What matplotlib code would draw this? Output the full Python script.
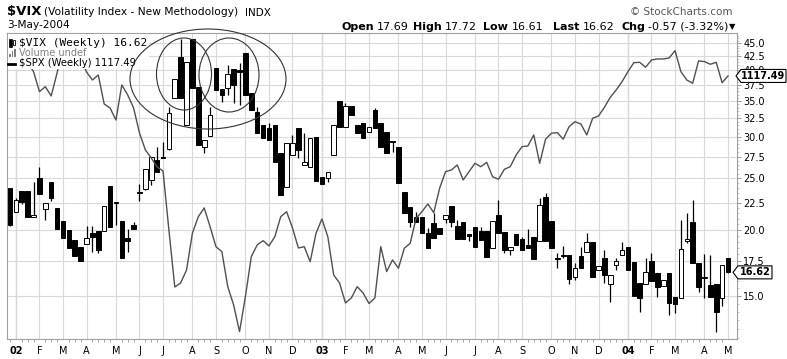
import matplotlib
matplotlib.use("Agg")
import matplotlib.pyplot as plt
import numpy as np
import pandas as pd
from matplotlib.lines import Line2D
from matplotlib.patches import Ellipse, Polygon, Rectangle
from matplotlib.ticker import FixedLocator, FuncFormatter, NullFormatter

W, H = 787, 359

# weekly bars (week starting Monday), first week of 2002 up to 3-May-2004
weeks = pd.date_range("2001-12-31", periods=123, freq="W-MON")

vix_open = [
    23.99, 21.64, 23.72, 23.72, 21.18, 25.03, 21.87, 24.58, 21.99, 20.79,
    19.99, 19.14, 18.58, 18.81, 19.76, 19.91, 19.91, 24.20, 22.61, 20.81,
    19.28, 20.43, 23.61, 23.84, 24.79, 27.10, 27.39, 28.38, 35.44, 42.35,
    31.55, 45.80, 37.27, 28.71, 30.08, 40.37, 36.85, 37.01, 40.20, 40.08,
    43.10, 36.22, 33.43, 31.55, 31.14, 31.55, 27.89, 24.13, 27.69, 31.10,
    26.52, 26.32, 29.91, 25.20, 25.03, 27.69, 35.08, 31.24, 34.27, 31.55,
    31.87, 30.64, 33.68, 31.87, 30.64, 29.48, 28.71, 23.61, 22.11, 21.18,
    21.18, 19.70, 20.64, 20.14, 20.94, 22.21, 20.34, 20.73, 19.64, 20.23,
    19.93, 19.93, 18.46, 21.33, 19.84, 18.33, 19.64, 19.20, 18.72, 19.41,
    19.08, 23.10, 20.81, 17.70, 17.93, 17.93, 16.31, 17.85, 18.19, 19.00,
    16.80, 17.67, 15.81, 17.17, 17.93, 18.54, 17.41, 15.85, 15.81, 17.47,
    16.59, 15.67, 16.54, 14.95, 14.89, 19.05, 20.73, 17.29, 16.29, 15.74,
    15.81, 14.85, 17.69,
]
vix_high = [
    23.99, 22.97, 23.72, 23.72, 24.60, 26.29, 22.45, 24.58, 21.99, 20.79,
    19.99, 19.14, 18.58, 20.31, 20.34, 19.91, 22.18, 24.20, 22.61, 20.81,
    20.08, 20.73, 24.38, 26.03, 27.49, 28.67, 29.31, 34.17, 38.49, 45.80,
    41.55, 45.80, 37.27, 29.57, 34.17, 40.37, 36.85, 40.95, 40.20, 41.26,
    43.10, 36.22, 34.12, 31.55, 31.83, 31.55, 27.89, 29.14, 30.21, 31.10,
    30.44, 29.79, 29.91, 25.20, 25.76, 31.55, 35.08, 34.78, 34.27, 31.55,
    31.87, 31.32, 33.94, 31.87, 30.64, 29.48, 28.71, 23.61, 22.11, 21.64,
    21.18, 20.14, 21.49, 20.14, 21.33, 22.21, 20.88, 20.73, 19.64, 20.23,
    20.28, 19.93, 20.81, 22.77, 19.84, 18.58, 19.64, 19.41, 20.08, 19.41,
    22.94, 23.45, 20.81, 18.06, 18.64, 17.93, 17.32, 18.58, 19.70, 19.00,
    17.09, 18.33, 16.43, 17.70, 18.95, 18.54, 17.41, 15.85, 17.67, 18.11,
    16.59, 16.08, 16.54, 14.95, 20.88, 21.54, 22.77, 17.29, 18.00, 17.93,
    15.81, 17.19, 17.72,
]
vix_low = [
    20.34, 21.62, 22.38, 21.18, 21.10, 23.38, 20.88, 22.70, 20.04, 19.28,
    18.46, 17.85, 17.47, 18.81, 18.19, 18.11, 19.91, 20.25, 20.46, 17.70,
    18.19, 20.08, 22.70, 23.79, 24.31, 25.67, 27.28, 28.29, 35.44, 35.44,
    31.55, 37.01, 28.93, 27.89, 30.08, 36.74, 34.92, 35.95, 34.68, 34.42,
    35.95, 33.68, 30.44, 29.82, 29.57, 26.90, 23.27, 24.13, 27.69, 27.30,
    26.52, 26.32, 24.77, 24.42, 24.66, 27.69, 31.32, 31.24, 32.96, 30.44,
    29.79, 30.64, 31.10, 28.71, 27.89, 28.07, 24.50, 21.49, 20.28, 20.73,
    19.70, 18.46, 19.28, 19.64, 20.64, 20.28, 19.20, 19.20, 19.08, 18.54,
    19.14, 17.80, 18.46, 19.70, 18.06, 17.93, 18.72, 18.33, 18.46, 17.62,
    19.08, 19.08, 18.46, 16.92, 17.70, 15.81, 16.08, 16.92, 18.19, 16.31,
    16.80, 15.85, 14.63, 16.80, 17.93, 16.80, 15.02, 14.01, 15.81, 16.03,
    14.92, 15.67, 13.81, 13.92, 14.89, 18.89, 17.34, 15.26, 14.87, 14.95,
    12.84, 14.36, 16.61,
]
vix_close = [
    20.43, 22.77, 22.61, 21.18, 21.29, 23.38, 22.45, 22.94, 20.04, 19.28,
    18.46, 17.85, 17.47, 19.28, 19.36, 18.33, 22.18, 20.25, 22.51, 17.70,
    19.08, 20.08, 23.45, 26.03, 27.49, 25.67, 27.30, 33.20, 38.49, 35.44,
    41.55, 37.01, 28.93, 29.57, 32.96, 36.74, 35.95, 39.34, 37.55, 39.73,
    35.95, 33.68, 30.44, 29.82, 29.57, 26.90, 23.27, 29.14, 29.14, 28.29,
    26.90, 29.79, 24.77, 24.42, 25.76, 31.55, 31.32, 34.27, 32.96, 30.44,
    29.79, 31.32, 31.10, 28.71, 27.89, 29.35, 24.50, 21.49, 20.73, 20.73,
    19.70, 18.46, 19.28, 19.64, 21.33, 20.73, 19.20, 19.20, 19.47, 18.54,
    19.14, 17.80, 20.81, 19.70, 18.33, 18.58, 18.72, 18.33, 18.46, 17.62,
    22.28, 19.08, 18.46, 17.62, 17.81, 16.13, 16.92, 16.92, 19.00, 16.31,
    17.09, 16.43, 16.43, 17.47, 18.33, 16.80, 15.02, 14.85, 16.66, 16.03,
    15.62, 16.08, 14.57, 14.49, 18.38, 19.20, 17.34, 15.62, 16.22, 14.95,
    14.01, 17.19, 16.62,
]
spx_close = [
    1174.8, 1150.6, 1133.1, 1137.8, 1124.2, 1093.4, 1101.0, 1086.9, 1122.2, 1163.4,
    1166.7, 1150.6, 1147.3, 1123.7, 1111.3, 1119.0, 1074.9, 1068.9, 1051.2, 1103.6,
    1088.4, 1068.9, 1032.5, 1008.4, 997.2, 984.8, 979.4, 902.3, 833.6, 838.3,
    853.6, 898.5, 919.1, 930.3, 906.4, 881.6, 875.5, 834.0, 813.0, 783.5,
    822.5, 869.5, 883.7, 889.0, 882.5, 893.9, 919.1, 925.5, 904.8, 880.0,
    881.6, 863.4, 898.2, 916.2, 893.9, 847.6, 838.3, 815.3, 821.0, 834.0,
    826.7, 814.7, 821.0, 881.6, 851.6, 865.5, 855.6, 879.7, 885.8, 917.1,
    925.5, 935.5, 924.2, 956.1, 978.4, 980.7, 987.5, 967.2, 978.4, 989.8,
    985.2, 991.2, 971.6, 968.1, 981.6, 985.2, 1001.3, 1013.0, 1013.9, 1029.6,
    989.8, 1023.5, 1032.0, 1032.9, 1023.5, 1041.5, 1048.7, 1045.4, 1029.6, 1053.7,
    1057.1, 1069.9, 1084.9, 1096.0, 1108.7, 1124.2, 1138.3, 1138.9, 1131.1, 1142.6,
    1144.2, 1144.2, 1145.8, 1157.5, 1124.2, 1111.3, 1106.2, 1141.1, 1140.0, 1135.8,
    1138.9, 1107.1, 1117.49,
]

vix_ticks = [15.0, 17.5, 20.0, 22.5, 25.0, 27.5, 30.0, 32.5, 35.0, 37.5, 40.0, 42.5, 45.0]
month_letters = "JFMAMJJASOND"


def fxy(x, y):
    """pixel position from the top-left corner -> figure fraction"""
    return x / W, 1 - y / H


def px_rect(x, y, w, h, **kw):
    fx, fy = fxy(x, y + h)
    return Rectangle((fx, fy), w / W, h / H, transform=fig.transFigure, **kw)


fig = plt.figure(figsize=(W / 100, H / 100), dpi=100, facecolor="white")
ax = fig.add_axes([7 / W, (H - 339) / H, 730 / W, 306 / H])
ax2 = ax.twinx()

x = np.arange(len(weeks))
o = np.array(vix_open)
c = np.array(vix_close)
up = c >= o

# candles
ax.set_yscale("log")
ax.vlines(x, vix_low, vix_high, color="black", lw=0.9, zorder=2)
bottom = np.minimum(o, c)
top = np.maximum(o, c)
ax.bar(x, top - bottom, bottom=bottom, width=0.78,
       color=np.where(up, "white", "black"), edgecolor="black",
       linewidth=0.7, zorder=3)
ax.set_xlim(-0.51, 123.53)
ax.set_ylim(12.44, 47.06)

# month ticks / grid
month_pos = [i for i in range(1, len(weeks)) if weeks[i].month != weeks[i - 1].month]
month_lab = []
for i in month_pos:
    d = weeks[i]
    month_lab.append(f"{d.year % 100:02d}" if d.month == 1 else month_letters[d.month - 1])
ax.set_xticks(month_pos, month_lab)
for lab in ax.get_xticklabels():
    if lab.get_text().isdigit():
        lab.set_fontweight("bold")
ax.xaxis.set_minor_locator(FixedLocator(x))
ax.tick_params(axis="x", which="major", length=0, pad=5, labelsize=7)
ax.tick_params(axis="x", which="minor", length=2, width=0.6, color="#999999")

ax.yaxis.tick_right()
ax.yaxis.set_major_locator(FixedLocator(vix_ticks))
ax.yaxis.set_major_formatter(FuncFormatter(lambda v, p: f"{v:.1f}"))
ax.yaxis.set_minor_locator(FixedLocator(np.arange(12.5, 47.0, 0.5)))
ax.yaxis.set_minor_formatter(NullFormatter())
ax.tick_params(axis="y", which="major", length=3, width=0.6, color="#888888",
               pad=1.5, labelsize=7)
ax.tick_params(axis="y", which="minor", length=1.5, width=0.5, color="#aaaaaa")

ax.set_axisbelow(True)
ax.grid(True, which="major", color="#d9d9d9", lw=0.8)
for i in month_pos:
    if weeks[i].month == 1:
        ax.axvline(i, color="#b0b0b0", lw=0.9, zorder=0.5)
for s in ax.spines.values():
    s.set_color("#a0a0a0")
    s.set_linewidth(0.8)

# S&P 500 overlay on its own (hidden) scale
ax2.set_yscale("log")
ax2.plot(x, spx_close, color="#505050", lw=1.0)
ax2.set_ylim(775.5, 1186.2)
ax2.set_axis_off()

# header
fig.text(*fxy(7, 12), "$VIX", fontsize=9.5, fontweight="bold", va="center", parse_math=False)
fig.text(*fxy(44, 12), "(Volatility Index - New Methodology)", fontsize=7.7, va="center")
fig.text(*fxy(245, 12.5), "INDX", fontsize=7.5, va="center")
fig.text(*fxy(7, 25), weeks[-1].strftime("%-d-%b-%Y"), fontsize=7.6, va="center")
fig.text(*fxy(733, 12), "\u00a9 StockCharts.com", fontsize=7.5, color="#555555",
         ha="right", va="center")

chg = vix_close[-1] - vix_close[-2]
quote = [
    (341, "Open", True), (377, f"{vix_open[-1]:.2f}", False),
    (413, "High", True), (445, f"{vix_high[-1]:.2f}", False),
    (483, "Low", True), (512, f"{vix_low[-1]:.2f}", False),
    (553, "Last", True), (583, f"{vix_close[-1]:.2f}", False),
    (622, "Chg", True), (648, f"{chg:.2f} ({chg / vix_close[-2] * 100:.2f}%)", False),
]
for qx, txt, bold in quote:
    fig.text(*fxy(qx, 26.5), txt, fontsize=8, fontweight="bold" if bold else "normal",
             va="center")
fig.text(*fxy(729, 27), "\u25bc", fontsize=6, va="center")

# legend block inside the plot (white box hides the overlay line behind it)
fig.add_artist(px_rect(7.5, 34, 141, 34.5, fc="white", ec="none", zorder=2.5))
fig.text(*fxy(19, 42.5), f"$VIX (Weekly) {vix_close[-1]:.2f}", fontsize=8,
         family="DejaVu Sans Mono", va="center", parse_math=False)
fig.text(*fxy(19, 53), "Volume undef", fontsize=7, color="#808080", va="center")
fig.text(*fxy(19, 63.5), f"$SPX (Weekly) {spx_close[-1]:.2f}", fontsize=7.2,
         va="center", parse_math=False)
fig.add_artist(px_rect(9, 38.5, 2.5, 8, fc="black", ec="black", lw=0.5, zorder=4))
fig.add_artist(px_rect(12.5, 40, 2.5, 5, fc="white", ec="black", lw=0.6, zorder=4))
for bx, bh in [(9, 3), (11.5, 6), (14, 8)]:
    fig.add_artist(px_rect(bx, 57 - bh, 1.5, bh, fc="#808080", ec="none", zorder=4))
fig.add_artist(Line2D([fxy(8, 0)[0], fxy(15, 0)[0]], [fxy(0, 63.5)[1]] * 2,
                      transform=fig.transFigure, color="black", lw=2, zorder=4))

# hand drawn annotation ellipses
for (cx, cy, ew, eh) in [(208, 79, 156, 100), (184, 74, 55, 72), (229, 75, 60, 74)]:
    fig.add_artist(Ellipse(fxy(cx, cy), ew / W, eh / H, transform=fig.transFigure,
                           fill=False, ec="#333333", lw=0.8, zorder=10))


# last value tags on the right axis
def right_tag(axis, value, x0, x1, text):
    yc = H - axis.transData.transform((0, value))[1]
    pts = [(x0, yc), (x0 + 5, yc - 6.5), (x1, yc - 6.5), (x1, yc + 6.5), (x0 + 5, yc + 6.5)]
    fig.add_artist(Polygon([fxy(*p) for p in pts], closed=True, transform=fig.transFigure,
                           fc="white", ec="black", lw=0.8, zorder=6))
    fig.text(*fxy((x0 + 5 + x1) / 2, yc), text, fontsize=7, fontweight="bold",
             ha="center", va="center", zorder=7)


right_tag(ax2, spx_close[-1], 736, 786, f"{spx_close[-1]:.2f}")
right_tag(ax, vix_close[-1], 733, 772, f"{vix_close[-1]:.2f}")

fig.savefig("out.png", dpi=100, facecolor="white")
